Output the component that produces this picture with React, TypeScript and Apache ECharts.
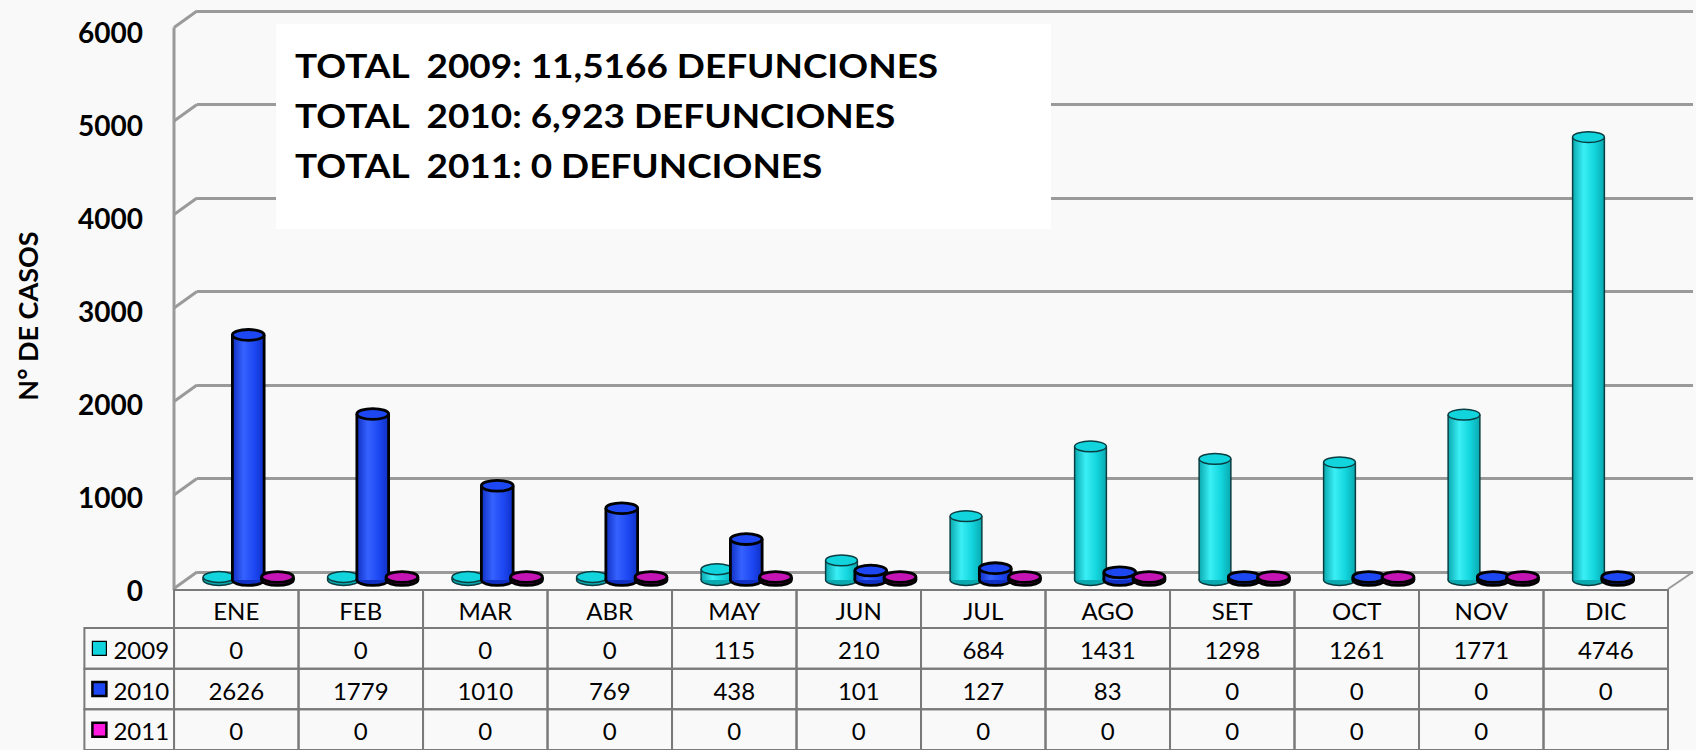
import React, { useEffect, useRef } from "react";
import * as echarts from "echarts";

const months = ["ENE", "FEB", "MAR", "ABR", "MAY", "JUN", "JUL", "AGO", "SET", "OCT", "NOV", "DIC"];
const years = ["2009", "2010", "2011"];
const values2009 = [0, 0, 0, 0, 115, 210, 684, 1431, 1298, 1261, 1771, 4746];
const values2010 = [2626, 1779, 1010, 769, 438, 101, 127, 83, 0, 0, 0, 0];
const values2011: (number | null)[] = [0, 0, 0, 0, 0, 0, 0, 0, 0, 0, 0, null];
const yTicks = [0, 1000, 2000, 3000, 4000, 5000, 6000];
const totalLines = [
  "TOTAL  2009: 11,5166 DEFUNCIONES",
  "TOTAL  2010: 6,923 DEFUNCIONES",
  "TOTAL  2011: 0 DEFUNCIONES",
];
const yAxisTitle = "N° DE CASOS";

const seriesValues = [values2009, values2010, values2011];
const seriesColors = ["#12D4DC", "#1C47F2", "#C414B4"];
const seriesDark = ["#0AA9B0", "#1030C4", "#8E0E84"];
const seriesLight = ["#3AEFF5", "#3562FF", "#E030D4"];
const seriesStroke = ["#0b3e42", "#000000", "#000000"];
const seriesStrokeW = [1.5, 2.8, 2.8];

const FONT = "Lato, 'Open Sans', sans-serif";
const DX = 23;
const DY = 16.5;

function cylinderRenderer(s: number) {
  return (params: any, api: any) => {
    const xi = api.value(0);
    const v = api.value(1);
    if (v == null || isNaN(v)) return null;
    const base = api.coord([xi, 0]);
    const top = api.coord([xi, v]);
    const band = api.size([1, 0])[0];
    const off = (s - 1) * band * 0.235;
    const w = band * 0.255;
    const cx = base[0] + off;
    const by = base[1];
    let ty = top[1];
    if (by - ty < 3) ty = by - 3;
    const rx = w / 2;
    const ry = w * 0.17;
    const stroke = seriesStroke[s];
    const lw = seriesStrokeW[s];
    const grad = {
      type: "linear", x: 0, y: 0, x2: 1, y2: 0,
      colorStops: [
        { offset: 0, color: seriesDark[s] },
        { offset: 0.35, color: seriesLight[s] },
        { offset: 0.7, color: seriesColors[s] },
        { offset: 1, color: seriesDark[s] },
      ],
    };
    return {
      type: "group",
      children: [
        { type: "ellipse", shape: { cx, cy: by, rx, ry }, style: { fill: seriesDark[s], stroke, lineWidth: lw } },
        { type: "rect", shape: { x: cx - rx, y: ty, width: w, height: by - ty }, style: { fill: grad } },
        { type: "line", shape: { x1: cx - rx, y1: ty, x2: cx - rx, y2: by }, style: { stroke, lineWidth: lw } },
        { type: "line", shape: { x1: cx + rx, y1: ty, x2: cx + rx, y2: by }, style: { stroke, lineWidth: lw } },
        { type: "ellipse", shape: { cx, cy: ty, rx, ry }, style: { fill: seriesColors[s], stroke, lineWidth: lw } },
      ],
    };
  };
}

export default function App() {
  const ref = useRef<HTMLDivElement>(null);
  useEffect(() => {
    document.body.style.margin = "0";
    if (!ref.current) return;
    const chart = echarts.init(ref.current, undefined, { renderer: "svg" });

    const headerData = months.map((_, i) => [i, 0]);
    const bodyData: number[][] = [];
    const bodyTexts: string[] = [];
    years.forEach((_, r) => {
      seriesValues[r].forEach((v, c) => {
        bodyData.push([c, r]);
        bodyTexts.push(v == null ? "" : String(v));
      });
    });
    const legendData = years.map((_, r) => [-0.72, r]);

    const cellRect = (api: any, c0: number, c1: number, r: number) => {
      const a = api.coord([c0, r]);
      const b = api.coord([c1, r]);
      const h = api.size([0, 1])[1];
      return { x: a[0], y: a[1] - h / 2, width: b[0] - a[0], height: h, cy: a[1] };
    };
    const cellStyle = { fill: "rgba(0,0,0,0)", stroke: "#7a7a7a", lineWidth: 2 };
    const textStyle = { fontSize: 24, fontFamily: FONT, fill: "#000", align: "center", verticalAlign: "middle" };

    const option: any = {
      animation: false,
      backgroundColor: "#f9f9f9",
      grid: [
        { left: 197, top: 11, width: 1496, height: 561 },
        { left: 186, top: 20, width: 1494, height: 560 },
        { left: 174, top: 32, width: 1494, height: 558 },
        { left: 84.4, top: 590, width: 1583.6, height: 38 },
        { left: 84.4, top: 628, width: 1583.6, height: 126 },
      ],
      xAxis: [
        { gridIndex: 0, type: "value", min: 0, max: 1, show: false },
        { gridIndex: 1, type: "category", data: months, show: false },
        { gridIndex: 2, type: "value", min: 0, max: 1, show: false },
        { gridIndex: 3, type: "value", min: -0.72, max: 12, show: false },
        { gridIndex: 4, type: "value", min: -0.72, max: 12, show: false },
      ],
      yAxis: [
        {
          gridIndex: 0, type: "value", min: 0, max: 6000, interval: 1000,
          axisLabel: { show: false }, axisLine: { show: false }, axisTick: { show: false },
          splitLine: { show: true, lineStyle: { color: "#9a9a9a", width: 3 } },
        },
        { gridIndex: 1, type: "value", min: 0, max: 6000, interval: 1000, show: false, splitLine: { show: false } },
        {
          gridIndex: 2, type: "value", min: 0, max: 6000, interval: 1000,
          axisLine: { show: false }, axisTick: { show: false }, splitLine: { show: false },
          axisLabel: {
            fontSize: 28, fontWeight: "bold", fontFamily: FONT, color: "#000", margin: 31,
            formatter: (v: number) => String(v),
          },
        },
        { gridIndex: 3, type: "category", data: ["MES"], show: false },
        { gridIndex: 4, type: "category", data: years, inverse: true, show: false },
      ],
      graphic: [
        { type: "line", shape: { x1: 174, y1: 27.5, x2: 174, y2: 590 }, style: { stroke: "#9a9a9a", lineWidth: 3 }, z: 1 },
        { type: "line", shape: { x1: 1668, y1: 589, x2: 1693, y2: 572 }, style: { stroke: "#9a9a9a", lineWidth: 2 }, z: 1 },
        { type: "rect", shape: { x: 276, y: 24, width: 775, height: 205 }, style: { fill: "#ffffff" }, z: 10 },
        ...totalLines.map((t, i) => ({
          type: "text", x: 295, y: 65 + i * 50, scaleX: 1.12, z: 11,
          style: { text: t, x: 0, y: 0, fontSize: 33, fontWeight: "bold", fontFamily: FONT, fill: "#000", align: "left", verticalAlign: "middle" },
        })),
        {
          type: "text", x: 27, y: 316, rotation: Math.PI / 2, z: 11,
          style: { text: yAxisTitle, x: 0, y: 0, fontSize: 27, fontWeight: "bold", fontFamily: FONT, fill: "#000", align: "center", verticalAlign: "middle" },
        },
      ],
      series: [
        {
          type: "custom", xAxisIndex: 0, yAxisIndex: 0, z: 1,
          data: yTicks.map((v) => [0, v]),
          renderItem: (params: any, api: any) => {
            const p = api.coord([0, api.value(1)]);
            return { type: "line", shape: { x1: p[0], y1: p[1], x2: p[0] - DX, y2: p[1] + DY }, style: { stroke: "#9a9a9a", lineWidth: 3 } };
          },
        },
        ...seriesValues.map((vals, s) => ({
          type: "custom", name: years[s], xAxisIndex: 1, yAxisIndex: 1, z: 3 + s,
          data: vals.map((v, i) => [i, v == null ? "-" : v]),
          renderItem: cylinderRenderer(s),
        })),
        {
          type: "custom", xAxisIndex: 3, yAxisIndex: 3, z: 5,
          data: headerData,
          renderItem: (params: any, api: any) => {
            const c = api.value(0);
            const r = cellRect(api, c, c + 1, 0);
            return {
              type: "group",
              children: [
                { type: "rect", shape: { x: r.x, y: r.y, width: r.width, height: r.height }, style: cellStyle },
                { type: "text", style: { ...textStyle, text: months[params.dataIndex], x: r.x + r.width / 2, y: r.cy + 1 } },
              ],
            };
          },
        },
        {
          type: "custom", xAxisIndex: 4, yAxisIndex: 4, z: 5,
          data: bodyData,
          renderItem: (params: any, api: any) => {
            const c = api.value(0);
            const row = api.value(1);
            const r = cellRect(api, c, c + 1, row);
            return {
              type: "group",
              children: [
                { type: "rect", shape: { x: r.x, y: r.y, width: r.width, height: r.height }, style: cellStyle },
                { type: "text", style: { ...textStyle, text: bodyTexts[params.dataIndex], x: r.x + r.width / 2, y: r.cy + 1 } },
              ],
            };
          },
        },
        {
          type: "custom", xAxisIndex: 4, yAxisIndex: 4, z: 5,
          data: legendData,
          renderItem: (params: any, api: any) => {
            const row = api.value(1);
            const r = cellRect(api, api.value(0), 0, row);
            const i = params.dataIndex;
            return {
              type: "group",
              children: [
                { type: "rect", shape: { x: r.x, y: r.y, width: r.width, height: r.height }, style: cellStyle },
                { type: "rect", shape: { x: r.x + 8, y: r.cy - 7, width: 14, height: 14 }, style: { fill: i === 2 ? "#FF1AE0" : seriesColors[i], stroke: "#000", lineWidth: i === 0 ? 1.2 : 2.5 } },
                { type: "text", style: { ...textStyle, text: years[i], x: r.x + 29, y: r.cy + 1, align: "left" } },
              ],
            };
          },
        },
      ],
    };
    chart.setOption(option);
    return () => chart.dispose();
  }, []);
  return <div ref={ref} style={{ width: 1696, height: 750 }} />;
}
